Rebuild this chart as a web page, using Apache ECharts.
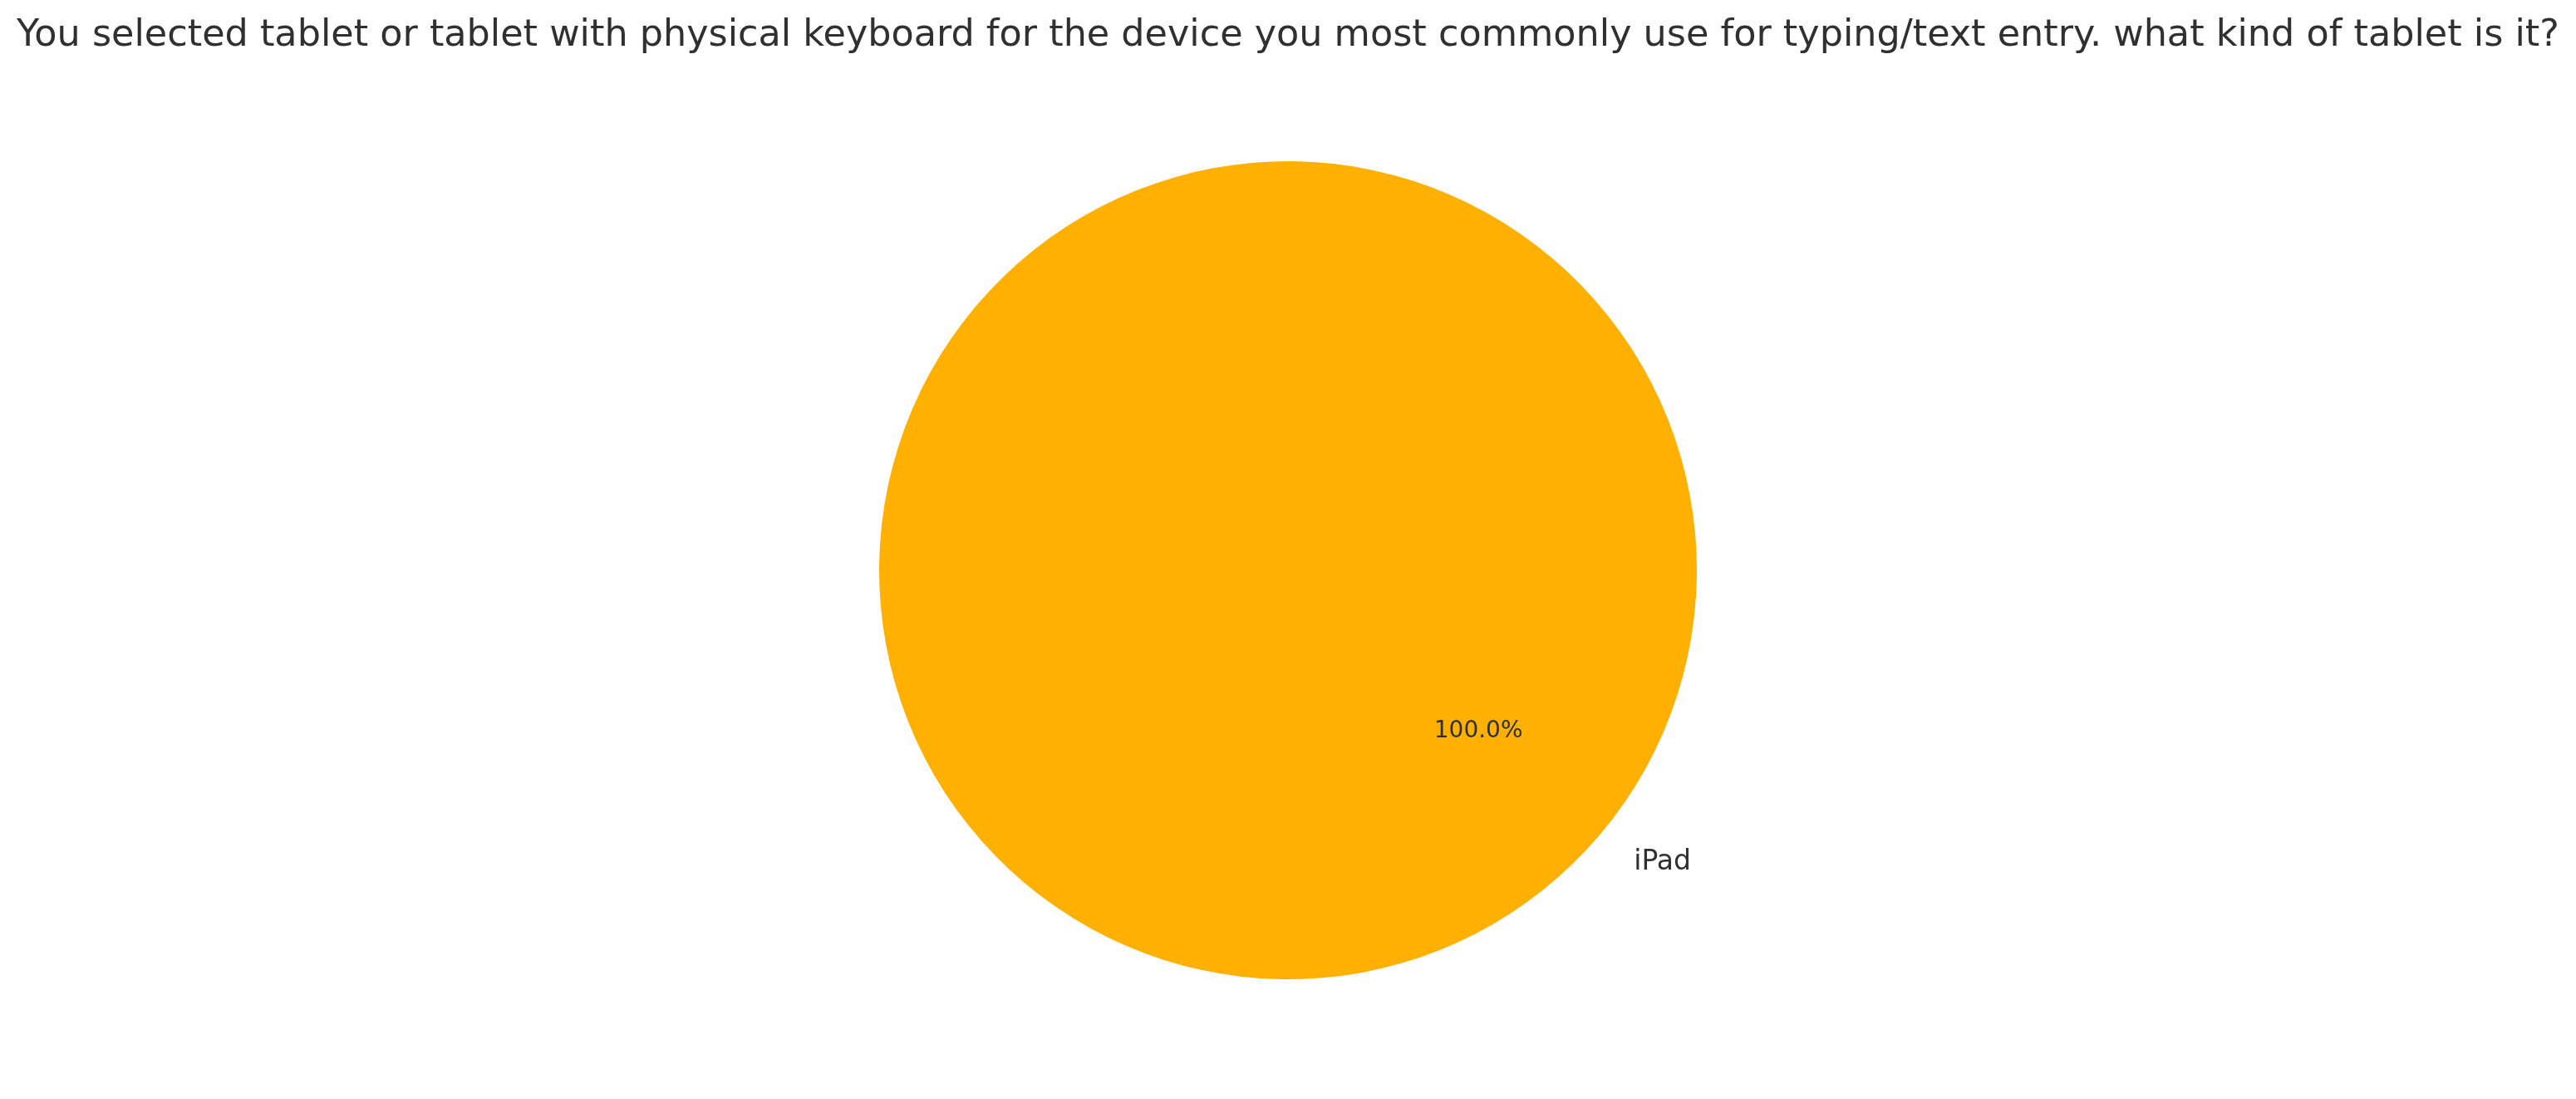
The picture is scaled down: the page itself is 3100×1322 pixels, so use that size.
<!DOCTYPE html>
<html>
<head>
<meta charset="utf-8">
<script src="https://cdn.jsdelivr.net/npm/echarts@6/dist/echarts.min.js"></script>
<style>
  html, body { margin: 0; padding: 0; background: #fff; }
  #chart { width: 3100px; height: 1322px; }
</style>
</head>
<body>
<div id="chart"></div>
<script>
// data
var categories = ['iPad'];
var values = [100];
var colors = ['#ffb000'];
var titleText = 'You selected tablet or tablet with physical keyboard for the device you most commonly use for typing/text entry. what kind of tablet is it?';

var myChart = echarts.init(document.getElementById('chart'));

var pieData = categories.map(function (name, i) {
    return { name: name, value: values[i], itemStyle: { color: colors[i] } };
});

var R = 492;
var textColor = '#303030';
var startAng = 139.8;

var option = {
    backgroundColor: '#ffffff',
    animation: false,
    title: {
        text: titleText,
        left: 'center',
        top: 16,
        textStyle: { fontFamily: 'DejaVu Sans', fontSize: 44.5, fontWeight: 'normal', color: textColor }
    },
    series: [
        {
            // the pie itself, with the category label outside
            type: 'pie',
            center: [1550, 686],
            radius: [0, R],
            startAngle: startAng,
            clockwise: true,
            silent: true,
            data: pieData,
            label: {
                show: true,
                position: 'outside',
                formatter: '{b}',
                fontFamily: 'DejaVu Sans',
                fontSize: 33,
                color: textColor,
                distanceToLabelLine: 0
            },
            labelLine: { show: false, length: 53, length2: 0 }
        },
        {
            // transparent copy only for the percent label (about 0.6 R)
            type: 'pie',
            center: [1550, 686],
            radius: [102, R],
            startAngle: startAng,
            clockwise: true,
            silent: true,
            data: pieData.map(function (d) {
                return { name: d.name, value: d.value, itemStyle: { color: 'rgba(0,0,0,0)' } };
            }),
            label: {
                show: true,
                position: 'inside',
                formatter: function (p) { return p.percent.toFixed(1) + '%'; },
                fontFamily: 'DejaVu Sans',
                fontSize: 28,
                color: textColor
            },
            labelLine: { show: false }
        }
    ]
};

myChart.setOption(option);
</script>
</body>
</html>
